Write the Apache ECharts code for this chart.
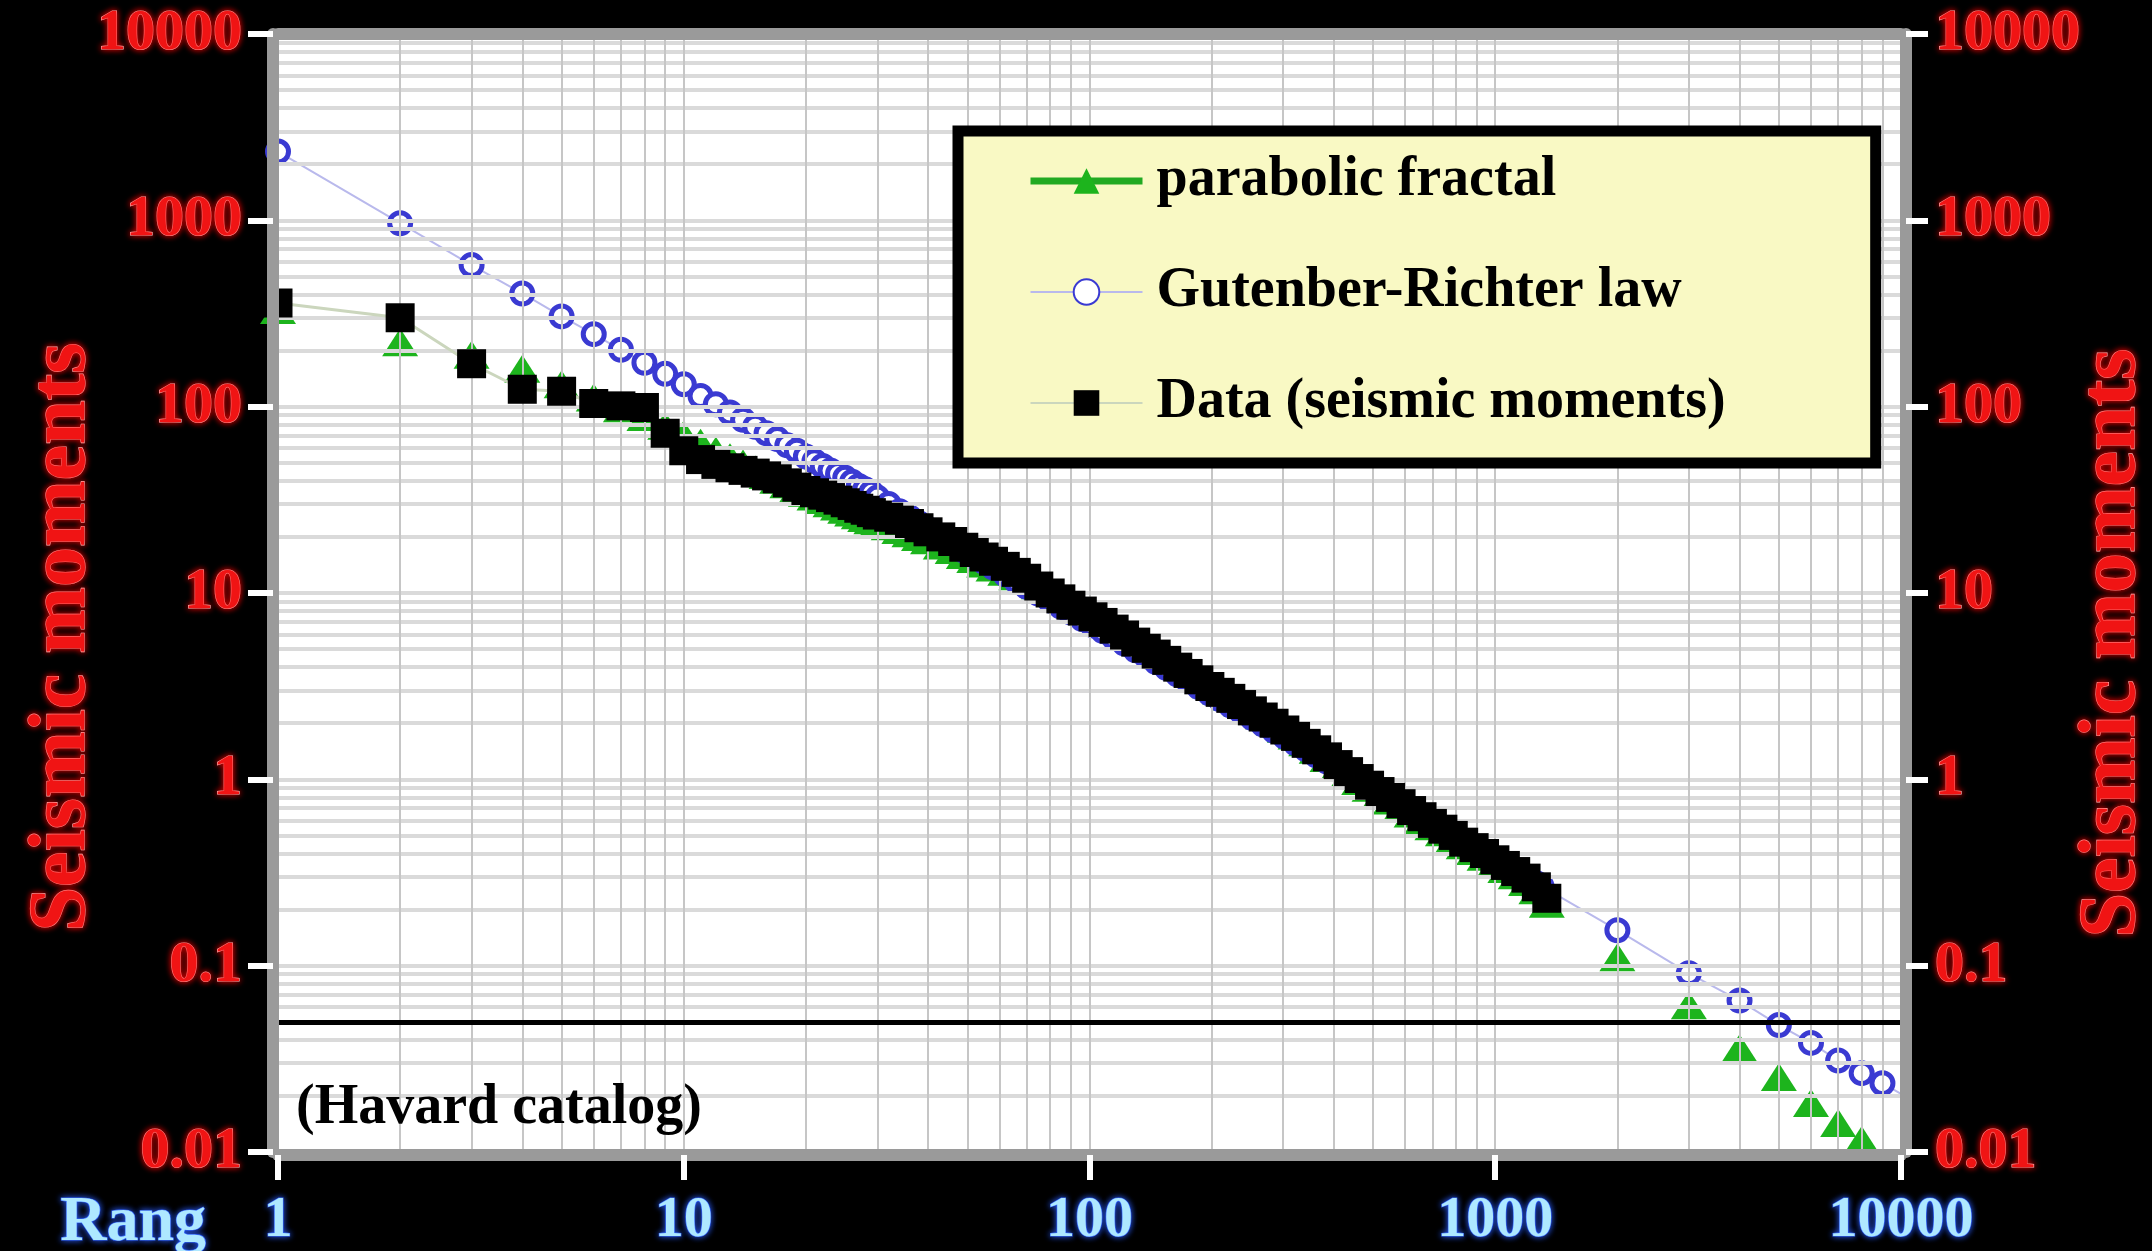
<!DOCTYPE html>
<html>
<head>
<meta charset="utf-8">
<title>Seismic moments vs rank</title>
<script src="https://cdn.jsdelivr.net/npm/echarts@6/dist/echarts.min.js"></script>
<style>
  html, body { margin: 0; padding: 0; background: #000; }
  #chart { width: 2152px; height: 1251px; }
</style>
</head>
<body>
<div id="chart"></div>
<script>
// Rank-ordered seismic moments (Harvard catalog) with two model curves.
const headRanks = [1, 2, 3, 4, 5, 6, 7, 8, 9, 10,
  11, 12, 13, 14, 15, 16, 17, 18, 19, 20,
  21, 22, 23, 24, 25, 26, 27, 28, 29, 30];
const midRanks = [32, 34, 36, 38, 40, 43, 46, 49, 52, 55,
  58, 62, 66, 70, 75, 80, 85, 90, 96, 102,
  108, 115, 122, 130, 138, 146, 155, 165, 175, 186,
  198, 210, 223, 237, 252, 268, 285, 303, 322, 342,
  363, 386, 410, 435, 462, 490, 520, 552, 586, 622,
  660, 700, 743, 788, 836, 887, 941, 998, 1059, 1123,
  1191, 1263];

// Observed moments
const dataRanks = headRanks.concat(midRanks, [1340]);
const dataMoments = [
  360, 300, 170, 124, 121, 104, 101, 99, 72, 58,
  52, 49, 47, 45.5, 44, 42.5, 41, 39, 37, 35.5,
  34.5, 33.5, 32.5, 31.5, 30.5, 29.5, 28.5, 27.8, 27, 26.2,
  25.5, 24.6, 23.6, 22.4, 21.3, 20, 18.9, 17.6, 16.5, 15.6,
  14.8, 13.9, 12.9, 12.0, 10.9, 10.0, 9.3, 8.6, 8.0, 7.45,
  6.95, 6.4, 5.95, 5.45, 5.05, 4.7, 4.35, 4.0, 3.7, 3.42,
  3.15, 2.93, 2.72, 2.52, 2.33, 2.16, 2.0, 1.84, 1.7, 1.56,
  1.44, 1.32, 1.2, 1.1, 1.01, 0.93, 0.86, 0.8, 0.74, 0.68,
  0.63, 0.58, 0.54, 0.5, 0.46, 0.43, 0.4, 0.37, 0.345, 0.32,
  0.295, 0.265,
  0.23
];

// Gutenberg-Richter power law
const grRanks = headRanks.concat(midRanks, [1300, 2000, 3000, 4000, 5000, 6000, 7000, 8000, 9000, 10000]);
const grMoments = [
  2340, 965, 575, 405, 305, 245, 202, 172, 150, 132,
  114, 103, 93, 85, 78, 72, 67, 62, 58, 54,
  51, 48, 45.5, 43.5, 41.5, 39.5, 37.5, 36, 34.5, 32.5,
  30, 27.5, 25.5, 23.7, 22, 20, 18.4, 16.9, 15.7, 14.7,
  13.7, 12.6, 11.6, 10.8, 9.9, 9.1, 8.45, 7.85, 7.24, 6.7,
  6.24, 5.75, 5.35, 4.93, 4.57, 4.26, 3.95, 3.65, 3.38, 3.13,
  2.89, 2.69, 2.49, 2.3, 2.13, 1.97, 1.82, 1.69, 1.56, 1.45,
  1.34, 1.24, 1.15, 1.07, 0.99, 0.92, 0.853, 0.79, 0.733, 0.679,
  0.63, 0.585, 0.542, 0.503, 0.467, 0.434, 0.402, 0.373, 0.346, 0.321,
  0.298, 0.277,
  0.267, 0.155, 0.091, 0.065, 0.048, 0.0385, 0.031, 0.0265, 0.0234, 0.0205
];

// Parabolic fractal fit
const fractalRanks = headRanks.concat(midRanks, [1340, 2000, 3000, 4000, 5000, 6000, 7000, 8000]);
const fractalMoments = [
  330, 222, 190, 160, 132, 112, 98, 88, 79, 71,
  64, 58, 53.5, 49.5, 46, 43, 40.5, 38.3, 36.3, 34.5,
  33, 31.6, 30.3, 29.1, 28, 27, 26.1, 25.3, 24.6, 23.9,
  22.8, 21.8, 20.9, 20.0, 19.2, 18.0, 17.0, 16.0, 15.2, 14.4,
  13.7, 13.0, 12.3, 11.7, 11.0, 10.3, 9.6, 8.85, 8.25, 7.65,
  7.15, 6.6, 6.1, 5.6, 5.2, 4.85, 4.48, 4.12, 3.81, 3.52,
  3.24, 3.0, 2.78, 2.57, 2.37, 2.2, 2.04, 1.87, 1.72, 1.58,
  1.44, 1.3, 1.17, 1.075, 0.98, 0.9, 0.83, 0.77, 0.71, 0.655,
  0.605, 0.56, 0.52, 0.48, 0.443, 0.413, 0.384, 0.356, 0.33, 0.306,
  0.281, 0.254,
  0.215, 0.111, 0.0614, 0.036, 0.0253, 0.0183, 0.0143, 0.0116
];

// Catalog completeness threshold and note
const thresholdMoment = 0.05;
const catalogNote = '(Havard catalog)';
const seriesNames = ['parabolic fractal', 'Gutenber-Richter law', 'Data (seismic moments)'];

const SERIF = '"Liberation Serif", "Times New Roman", serif';

function pairs(xs, ys) { return xs.map((x, i) => [x, ys[i]]); }

// log grid lines: 2..9 within every decade plus the inner decades
function logGrid(fromExp, toExp) {
  const out = [];
  for (let e = fromExp; e < toExp; e++) {
    const base = Math.pow(10, e);
    for (let m = 1; m <= 9; m++) {
      if (m === 1 && e === fromExp) continue;
      out.push(+(m * base).toPrecision(6));
    }
  }
  return out;
}
const xGrid = logGrid(0, 4);
const yGrid = logGrid(-2, 4);

const gridLines = []
  .concat(yGrid.map(v => ({ yAxis: v, lineStyle: { color: '#dadada', width: 4, type: 'solid' } })))
  .concat(xGrid.map(v => ({ xAxis: v, lineStyle: { color: '#c6c6c6', width: 2, type: 'solid' } })))
  .concat([{ yAxis: thresholdMoment, lineStyle: { color: '#000', width: 5, type: 'solid' } }]);

const redText = {
  color: '#f01414', fontFamily: SERIF, fontWeight: 'bold',
  textBorderColor: '#ffd2d2', textBorderWidth: 1.2,
  textShadowColor: '#ff0000', textShadowBlur: 6
};
const blueText = {
  color: '#aee8ff', fontFamily: SERIF, fontWeight: 'bold',
  textBorderColor: '#3a6dff', textBorderWidth: 1.2,
  textShadowColor: '#2a5cff', textShadowBlur: 6
};
const fmt = v => String(+(+v).toPrecision(6));

const frameLine = { show: true, onZero: false, lineStyle: { color: '#9a9a9a', width: 12 } };

const option = {
  backgroundColor: '#000',
  animation: false,
  grid: {
    left: 278, right: 251, top: 34, bottom: 99,
    outerBoundsMode: 'none', containLabel: false,
    show: true, backgroundColor: '#ffffff', borderWidth: 0
  },
  xAxis: [
    {
      type: 'log', logBase: 10, min: 1, max: 10000, splitNumber: 4, position: 'bottom', offset: 3, z: 10,
      axisLine: frameLine,
      axisTick: { show: true, length: 25, lineStyle: { color: '#ffffff', width: 6 } },
      axisLabel: Object.assign({ fontSize: 58, margin: 37, formatter: fmt }, blueText),
      splitLine: { show: false },
      name: 'Rang', nameLocation: 'start', nameGap: 72, nameMoveOverlap: false,
      nameTextStyle: Object.assign({ fontSize: 64, lineHeight: 64, verticalAlign: 'top', padding: [36, 0, 0, 0] }, blueText)
    },
    {
      type: 'log', logBase: 10, min: 1, max: 10000, splitNumber: 4, position: 'top', z: 10,
      axisLine: frameLine, axisTick: { show: false }, axisLabel: { show: false }, splitLine: { show: false }
    }
  ],
  yAxis: [
    {
      type: 'log', logBase: 10, min: 0.01, max: 10000, splitNumber: 6, position: 'left', offset: 5, z: 10,
      axisLine: frameLine,
      axisTick: { show: true, length: 25, lineStyle: { color: '#ffffff', width: 6 } },
      axisLabel: Object.assign({ fontSize: 58, margin: 31, formatter: fmt }, redText),
      splitLine: { show: false },
      name: 'Seismic moments', nameLocation: 'middle', nameRotate: 90, nameGap: 170, nameMoveOverlap: false,
      nameTextStyle: Object.assign({ fontSize: 80, padding: [0, 88, 0, 0] }, redText)
    },
    {
      type: 'log', logBase: 10, min: 0.01, max: 10000, splitNumber: 6, position: 'right', offset: 5, z: 10,
      axisLine: frameLine,
      axisTick: { show: true, length: 22, lineStyle: { color: '#ffffff', width: 6 } },
      axisLabel: Object.assign({ fontSize: 58, margin: 29, formatter: fmt }, redText),
      splitLine: { show: false },
      name: 'Seismic moments', nameLocation: 'middle', nameRotate: 90, nameGap: 167, nameMoveOverlap: false,
      nameTextStyle: Object.assign({ fontSize: 80, padding: [0, 100, 0, 0] }, redText)
    }
  ],
  legend: {
    z: 30,
    orient: 'vertical', left: 958, top: 131,
    padding: [20, 150, 30, 69], itemGap: 51, itemWidth: 112, itemHeight: 32,
    backgroundColor: '#f9f9c4', borderColor: '#000', borderWidth: 11, borderRadius: 0,
    textStyle: { fontFamily: SERIF, fontWeight: 'bold', fontSize: 56, lineHeight: 60, color: '#000', padding: [0, 0, 0, 9] },
    data: [
      { name: seriesNames[0], lineStyle: { color: '#22aa22', width: 7, opacity: 1 } },
      { name: seriesNames[1] },
      { name: seriesNames[2] }
    ]
  },
  graphic: [
    {
      type: 'text', left: 296, top: 1081, z: 20,
      style: { text: catalogNote, font: 'bold 56px "Liberation Serif", serif', fill: '#000' }
    }
  ],
  series: [
    {
      type: 'line', data: [], z: 1, silent: true,
      markLine: { silent: true, symbol: ['none', 'none'], label: { show: false }, animation: false, data: gridLines }
    },
    {
      name: seriesNames[0], type: 'line', z: 3, showAllSymbol: true,
      data: pairs(fractalRanks, fractalMoments),
      symbol: 'triangle', symbolSize: [36, 28],
      itemStyle: { color: '#1db41d' },
      lineStyle: { color: '#1db41d', width: 0, opacity: 0 }
    },
    {
      name: seriesNames[1], type: 'line', z: 4, showAllSymbol: true,
      data: pairs(grRanks, grMoments).map(p => p[0] === 10000 ? { value: p, symbol: 'none' } : p),
      symbol: 'circle', symbolSize: 21,
      itemStyle: { color: '#ffffff', borderColor: '#3a3ad2', borderWidth: 5 },
      lineStyle: { color: '#b9b9ec', width: 2 }
    },
    {
      name: seriesNames[2], type: 'line', z: 5, showAllSymbol: true,
      data: pairs(dataRanks, dataMoments),
      symbol: 'rect', symbolSize: 29,
      itemStyle: { color: '#000000' },
      lineStyle: { color: '#cbd6bd', width: 3 }
    }
  ]
};

const chart = echarts.init(document.getElementById('chart'), null, { renderer: 'canvas' });
chart.setOption(option);
</script>
</body>
</html>
